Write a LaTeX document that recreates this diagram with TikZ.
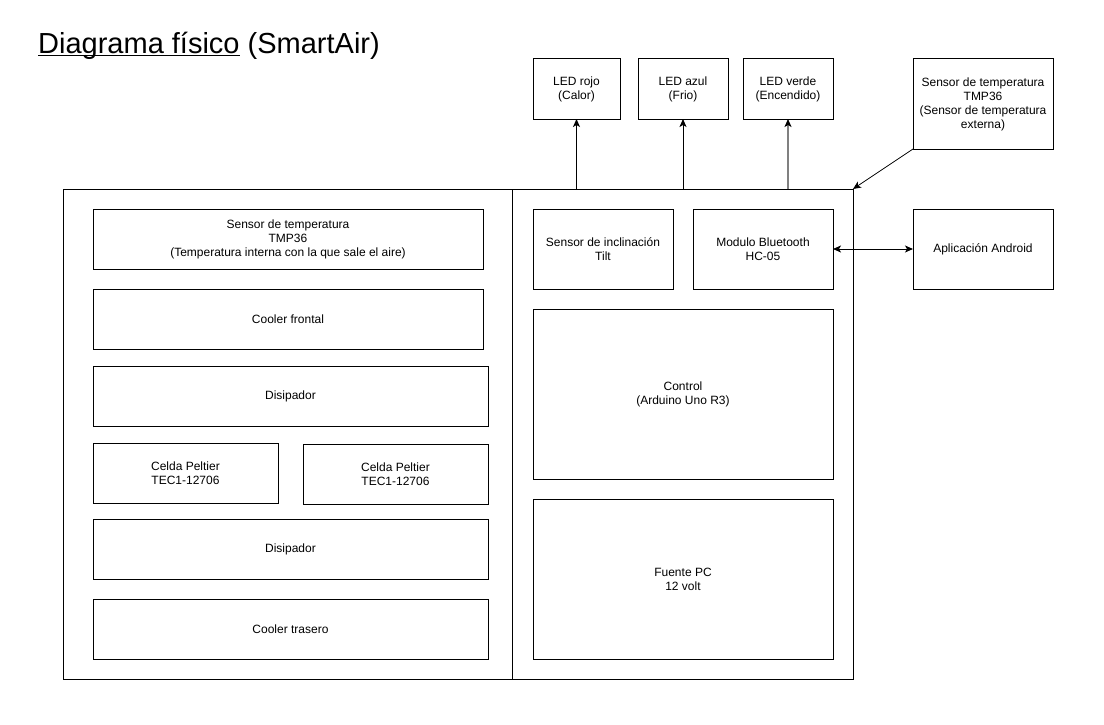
\documentclass[tikz,border=0pt]{standalone}
\usepackage{fontspec}
\setmainfont{Liberation Sans}
\usetikzlibrary{arrows.meta}
\newsavebox\titbox
\newcommand{\subrayado}[1]{\sbox\titbox{#1}\rlap{\rule[-3pt]{\wd\titbox}{1.6pt}}\usebox\titbox}
\tikzset{
	caja/.style={draw, line width=1pt, inner sep=0pt, outer sep=0pt, anchor=north west, align=center,
		font=\fontsize{12}{14}\selectfont},
	flecha/.style={line width=1pt, -{Stealth[length=8pt,width=7pt,inset=2pt]}},
	doble/.style={line width=1pt, {Stealth[length=8pt,width=7pt,inset=2pt]}-{Stealth[length=8pt,width=7pt,inset=2pt]}},
}
\begin{document}
\begin{tikzpicture}[x=1pt,y=-1pt]
	\useasboundingbox (0,0) rectangle (1104,725);
	%title
	\node[anchor=base west, inner sep=0pt, font=\fontsize{29}{34}\selectfont] (titulo) at (38,53.5) {\subrayado{Diagrama físico} (SmartAir)};
	
	%outer case
	\node[caja, minimum width=790, minimum height=490] (carcasa) at (63,189) {};
	\draw[line width=1pt] (512.5,189) -- (512.5,679);	%divider
	
	%left half
	\node[caja, minimum width=390, minimum height=60] (sensorInt) at (93,209) {Sensor de temperatura\\TMP36\\(Temperatura interna con la que sale el aire)};
	\node[caja, minimum width=390, minimum height=60] (coolerF) at (93,289) {Cooler frontal};
	\node[caja, minimum width=395, minimum height=60] (disipA) at (93,366) {Disipador};
	\node[caja, minimum width=185, minimum height=60] (celdaA) at (93,443) {Celda Peltier\\TEC1-12706};
	\node[caja, minimum width=185, minimum height=60] (celdaB) at (303,444) {Celda Peltier\\TEC1-12706};
	\node[caja, minimum width=395, minimum height=60] (disipB) at (93,519) {Disipador};
	\node[caja, minimum width=395, minimum height=60] (coolerT) at (93,599) {Cooler trasero};
	
	%right half
	\node[caja, minimum width=140, minimum height=80] (tilt) at (533,209) {Sensor de inclinación\\Tilt};
	\node[caja, minimum width=140, minimum height=80] (bt) at (693,209) {Modulo Bluetooth\\HC-05};
	\node[caja, minimum width=300, minimum height=170] (control) at (533,309) {Control\\(Arduino Uno R3)};
	\node[caja, minimum width=300, minimum height=160] (fuente) at (533,499) {Fuente PC\\12 volt};
	
	%outside
	\node[caja, minimum width=87, minimum height=60] (ledRojo) at (533,59) {LED rojo\\(Calor)};
	\node[caja, minimum width=90, minimum height=60] (ledAzul) at (638,59) {LED azul\\(Frio)};
	\node[caja, minimum width=90, minimum height=60] (ledVerde) at (743,59) {LED verde\\(Encendido)};
	\node[caja, minimum width=140, minimum height=90] (sensorExt) at (913,59) {Sensor de temperatura\\TMP36\\(Sensor de temperatura\\externa)};
	\node[caja, minimum width=140, minimum height=80] (android) at (913,209) {Aplicación Android};
	
	%arrows
	\draw[flecha] (ledRojo.south |- carcasa.north) -- (ledRojo.south);
	\draw[flecha] (ledAzul.south |- carcasa.north) -- (ledAzul.south);
	\draw[flecha, draw=gray, line width=1.6pt, -{Stealth[black,length=8pt,width=7pt,inset=2pt]}] (ledVerde.south |- carcasa.north) -- (ledVerde.south);
	\draw[flecha, line width=0.8pt] (sensorExt.south west) -- (carcasa.north east);
	\draw[doble] (bt.east) -- (android.west);
\end{tikzpicture}
\end{document}
